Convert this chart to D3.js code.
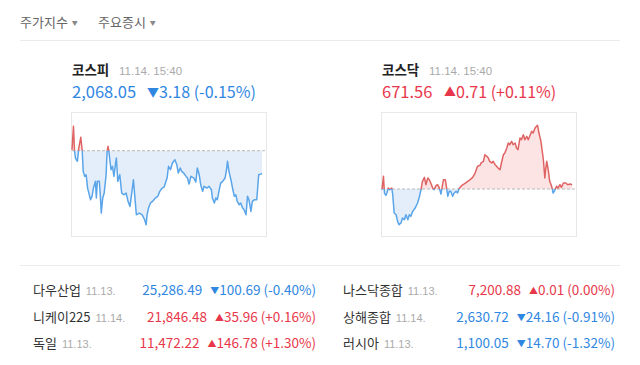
<!DOCTYPE html>
<html lang="ko">
<head>
<meta charset="utf-8">
<title>주요 지수</title>
<script src="https://cdnjs.cloudflare.com/ajax/libs/d3/7.8.5/d3.min.js"></script>
<style>
body { margin: 0; background: #fff; }
svg text { font-family: "Noto Sans CJK KR", "Noto Sans", sans-serif; }
.date { font-family: "Liberation Sans", Arial, sans-serif; fill: #aaa; }
</style>
</head>
<body>
<div id="chart"></div>
<script>

// intraday samples: minutes after 09:00, index value
var kospiMin = [0,3,5,7,11,14,18,21,23,26,29,32,38,41,44,48,50,52,56,58,60,63,66,70,72,74,76,80,83,86,89,91,94,98,102,107,111,115,119,123,126,130,132,138,144,149,152,154,157,161,165,171,176,180,185,189,195,198,202,206,211,215,218,222,225,229,234,237,240,244,250,254,257,261,264,268,271,277,281,286,288,292,295,298,302,305,309,314,317,319,322,326,330,333,336,339,343,346,350,353,357,360,363,367,370,374,379,383,390]
var kospiVal = [2071.37,2074.62,2071.37,2070.22,2069.76,2071.61,2073.09,2071.15,2068.37,2067.67,2067.90,2066.05,2064.42,2064.90,2066.05,2066.98,2064.66,2066.98,2066.98,2065.12,2062.58,2064.66,2065.35,2067.90,2071.15,2071.84,2070.91,2068.59,2069.06,2067.67,2069.29,2070.22,2066.98,2067.90,2065.35,2065.12,2065.35,2064.20,2063.51,2065.59,2067.20,2063.97,2062.34,2062.58,2062.34,2061.65,2060.95,2062.34,2063.27,2063.97,2064.20,2064.66,2064.90,2065.59,2066.05,2066.19,2067.44,2069.06,2068.59,2069.52,2069.98,2069.29,2068.13,2068.83,2068.37,2068.13,2067.67,2067.44,2066.60,2067.67,2067.44,2066.88,2068.83,2067.90,2066.51,2065.59,2066.29,2066.05,2066.29,2065.81,2064.66,2063.97,2064.66,2064.42,2065.81,2066.74,2066.98,2067.44,2068.59,2069.76,2068.37,2067.20,2065.81,2064.90,2065.12,2064.20,2063.73,2063.97,2063.27,2063.04,2062.34,2064.90,2064.42,2062.81,2064.20,2064.42,2064.42,2067.90,2068.05]
var kospiPrev = 2071.23
var kospiDomain = [2059.4, 2076.6]

var kosdaqMin = [0,3,5,8,10,13,16,20,22,25,29,32,35,39,42,46,49,53,56,59,63,68,73,76,80,83,87,90,94,97,100,104,107,111,114,117,121,123,126,130,133,135,138,141,145,148,152,155,158,164,171,178,186,191,196,201,203,208,211,215,218,221,225,228,232,235,238,242,245,249,252,256,259,262,266,269,273,276,279,283,286,290,293,297,300,303,307,310,314,317,319,322,326,331,334,336,338,341,344,348,351,355,358,361,365,368,372,377,381,386,390]
var kosdaqVal = [670.73,672.95,670.19,669.81,670.19,671.02,670.73,671.02,669.91,666.89,666.61,665.52,664.96,665.24,666.06,665.78,666.61,665.78,666.61,666.34,667.17,667.71,668.54,669.36,670.73,672.12,672.78,671.56,672.67,672.38,671.84,671.02,670.73,671.46,671.56,671.13,670.02,671.02,672.38,672.38,670.73,669.65,670.47,670.47,669.65,670.19,670.47,670.19,670.90,671.46,671.84,672.22,672.78,673.49,674.60,674.76,675.14,675.42,676.51,676.25,675.97,675.42,675.14,675.42,674.86,674.60,674.32,674.03,675.14,676.51,676.79,677.62,678.44,678.16,678.72,678.16,678.44,677.62,677.34,679.27,678.99,679.81,678.99,679.55,678.99,679.55,680.37,680.09,680.92,681.20,681.36,680.09,678.72,675.68,672.67,674.32,675.42,674.03,672.12,671.30,670.19,670.73,671.30,671.02,671.56,671.13,671.84,671.84,671.56,671.67,671.56]
var kosdaqPrev = 670.85
var kosdaqDomain = [663.1, 683.56]

var timeDomain = [0, 400]

var menuLabels = ['주가지수', '주요증시']

var tableNames = ['다우산업', '니케이225', '독일', '나스닥종합', '상해종합', '러시아']
var tableDates = ['11.13.', '11.14.', '11.13.', '11.13.', '11.14.', '11.13.']
var tableValues = ['25,286.49', '21,846.48', '11,472.22', '7,200.88', '2,630.72', '1,100.05']
var tableChanges = ['100.69', '35.96', '146.78', '0.01', '24.16', '14.70']
var tablePcts = ['-0.40%', '+0.16%', '+1.30%', '0.00%', '-0.91%', '-1.32%']
var tableUp = [false, true, true, true, false, false]

var W = 640, H = 365
var BLUE = '#3087e2', RED = '#e8374a'

var svg = d3.select('#chart').append('svg')
    .attr('width', W)
    .attr('height', H)

// top menu
var menuX = [20, 98]
menuLabels.forEach(function(m, i) {
    var t = svg.append('text')
        .attr('x', menuX[i])
        .attr('y', 27)
        .attr('font-size', 13)
        .attr('fill', '#666')
        .text(m)
    t.append('tspan')
        .attr('dx', 4)
        .attr('dy', -2)
        .attr('font-size', 6)
        .attr('fill', '#888')
        .text('▼')
})

svg.append('line')
    .attr('x1', 20).attr('x2', 620)
    .attr('y1', 40.5).attr('y2', 40.5)
    .attr('stroke', '#ebebeb')

function drawIndex(opt) {
    var g = svg.append('g')
    var left = opt.left
    var color = opt.change >= 0 ? RED : BLUE

    g.append('text')
        .attr('x', left + 1)
        .attr('y', 75)
        .attr('font-size', 13.5)
        .attr('font-weight', 'bold')
        .attr('fill', '#222')
        .text(opt.name)
    g.append('text')
        .attr('class', 'date')
        .attr('x', left + 48)
        .attr('y', 75)
        .attr('font-size', 11.5)
        .text(opt.stamp)

    g.append('text')
        .attr('x', left + 1)
        .attr('y', 98)
        .attr('font-size', 16.5)
        .attr('fill', color)
        .text(opt.value)
    var ch = g.append('text')
        .attr('x', left + opt.chX)
        .attr('y', 98)
        .attr('font-size', 16)
        .attr('fill', color)
    ch.append('tspan').attr('font-size', 12).attr('dy', -1).text(opt.change >= 0 ? '▲' : '▼')
    ch.append('tspan').attr('dy', 1).text(Math.abs(opt.change).toFixed(2) + ' (' + opt.pct + ')')

    var box = { x: left, y: 112, w: 196, h: 124 }
    var x = d3.scaleLinear().domain(timeDomain).range([box.x + 1, box.x + box.w])
    var y = d3.scaleLinear().domain(opt.domain).range([box.y + box.h, box.y])

    g.append('rect')
        .attr('x', box.x + 0.5).attr('y', box.y + 0.5)
        .attr('width', box.w - 1).attr('height', box.h)
        .attr('fill', 'none')
        .attr('stroke', '#e8e8e8')

    var data = opt.mins.map(function(m, i) { return { m: m, v: opt.vals[i] } })
    var base = y(opt.prev)

    var idA = 'up' + opt.id, idB = 'dn' + opt.id
    var defs = g.append('defs')
    defs.append('clipPath').attr('id', idA).append('rect')
        .attr('x', box.x).attr('y', box.y - 5).attr('width', box.w).attr('height', base - box.y + 5)
    defs.append('clipPath').attr('id', idB).append('rect')
        .attr('x', box.x).attr('y', base).attr('width', box.w).attr('height', box.y + box.h - base + 5)

    var area = d3.area()
        .x(function(d) { return x(d.m) })
        .y0(base)
        .y1(function(d) { return y(d.v) })
    var line = d3.line()
        .x(function(d) { return x(d.m) })
        .y(function(d) { return y(d.v) })

    g.append('path').datum(data).attr('d', area)
        .attr('fill', '#fde4e4').attr('clip-path', 'url(#' + idA + ')')
    g.append('path').datum(data).attr('d', area)
        .attr('fill', '#e4eefa').attr('clip-path', 'url(#' + idB + ')')

    g.append('line')
        .attr('x1', box.x + 1).attr('x2', box.x + box.w - 1)
        .attr('y1', base).attr('y2', base)
        .attr('stroke', '#b8b8b8')
        .attr('stroke-dasharray', '3,2')

    g.append('path').datum(data).attr('d', line)
        .attr('fill', 'none').attr('stroke', '#e06364').attr('stroke-width', 1.5)
        .attr('stroke-linejoin', 'round')
        .attr('clip-path', 'url(#' + idA + ')')
    g.append('path').datum(data).attr('d', line)
        .attr('fill', 'none').attr('stroke', '#5aa5e9').attr('stroke-width', 1.5)
        .attr('stroke-linejoin', 'round')
        .attr('clip-path', 'url(#' + idB + ')')
}

drawIndex({ id: 1, left: 71, name: '코스피', stamp: '11.14. 15:40', value: '2,068.05',
    change: -3.18, pct: '-0.15%', chX: 76, mins: kospiMin, vals: kospiVal,
    prev: kospiPrev, domain: kospiDomain })
drawIndex({ id: 2, left: 381, name: '코스닥', stamp: '11.14. 15:40', value: '671.56',
    change: 0.71, pct: '+0.11%', chX: 63, mins: kosdaqMin, vals: kosdaqVal,
    prev: kosdaqPrev, domain: kosdaqDomain })

svg.append('line')
    .attr('x1', 20).attr('x2', 620)
    .attr('y1', 265.5).attr('y2', 265.5)
    .attr('stroke', '#ebebeb')

// world indices table
var rowY = [295, 322, 348]
tableNames.forEach(function(n, i) {
    var col = i < 3 ? 0 : 1
    var nx = col == 0 ? 33 : 343
    var ex = col == 0 ? 316 : 615
    var ry = rowY[i % 3]
    var color = tableUp[i] ? RED : BLUE

    var t = svg.append('text')
        .attr('x', nx).attr('y', ry)
        .attr('font-size', 13)
        .attr('fill', '#333')
        .text(n)
    t.append('tspan')
        .attr('class', 'date')
        .attr('dx', 5)
        .attr('font-size', 11)
        .text(tableDates[i])

    var v = svg.append('text')
        .attr('x', ex).attr('y', ry)
        .attr('text-anchor', 'end')
        .attr('font-size', 13.5)
        .attr('fill', color)
    v.append('tspan').text(tableValues[i])
    v.append('tspan').attr('dx', 8).attr('font-size', 9).attr('dy', -1).text(tableUp[i] ? '▲' : '▼')
    v.append('tspan').attr('dy', 1).text(tableChanges[i] + ' (' + tablePcts[i] + ')')
})

</script>
</body>
</html>
